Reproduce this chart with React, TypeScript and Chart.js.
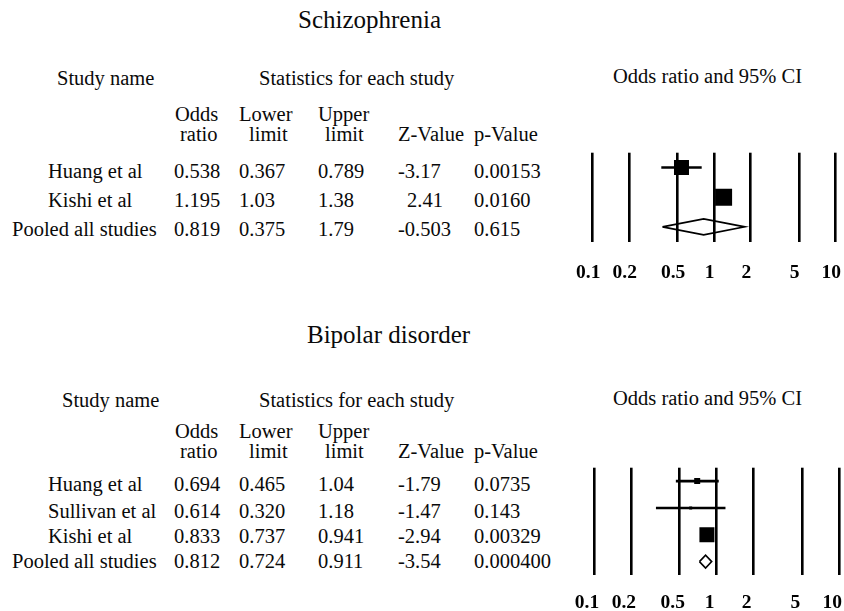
import React, { useEffect, useRef } from "react";
import { Chart, registerables } from "chart.js";

Chart.register(...registerables);

// ---------- data ----------
const oddsTicks = [0.1, 0.2, 0.5, 1, 2, 5, 10];

const schizStudies = ["Huang et al", "Kishi et al", "Pooled all studies"];
const schizOdds = ["0.538", "1.195", "0.819"];
const schizLower = ["0.367", "1.03", "0.375"];
const schizUpper = ["0.789", "1.38", "1.79"];
const schizZ = ["-3.17", "2.41", "-0.503"];
const schizP = ["0.00153", "0.0160", "0.615"];

const bipStudies = ["Huang et al", "Sullivan et al", "Kishi et al", "Pooled all studies"];
const bipOdds = ["0.694", "0.614", "0.833", "0.812"];
const bipLower = ["0.465", "0.320", "0.737", "0.724"];
const bipUpper = ["1.04", "1.18", "0.941", "0.911"];
const bipZ = ["-1.79", "-1.47", "-2.94", "-3.54"];
const bipP = ["0.0735", "0.143", "0.00329", "0.000400"];

// ---------- styles ----------
const FONT = '"Liberation Serif", "Times New Roman", Times, serif';
const schizBoxSide = [15, 17];
const bipBoxSide = [6, 3, 15];

type TProps = { x: number; b: number; s?: number; children: React.ReactNode };
function T({ x, b, s = 20.5, children }: TProps) {
  const style: React.CSSProperties = {
    position: "absolute",
    top: b - 0.8375 * s,
    left: x,
    fontSize: s,
    lineHeight: `${s}px`,
    fontFamily: FONT,
    whiteSpace: "nowrap",
    color: "#0a0a0a",
  };
  return <span style={style}>{children}</span>;
}

type ForestProps = {
  odds: string[];
  lower: string[];
  upper: string[];
  boxSide: number[];
  diamondHalf: number;
  left: number;
  top: number;
  width: number;
  height: number;
  padding: { left: number; right: number; top: number; bottom: number };
  labelOffset: number;
  lineHeight: number;
};

function Forest(p: ForestProps) {
  const ref = useRef<HTMLCanvasElement | null>(null);
  useEffect(() => {
    if (!ref.current) return;
    const o = p.odds.map(Number);
    const lo = p.lower.map(Number);
    const up = p.upper.map(Number);
    const n = o.length;
    const pi = n - 1;
    const h = p.diamondHalf;
    const datasets: any[] = [];
    for (let i = 0; i < pi; i++) {
      datasets.push({
        type: "line",
        showLine: true,
        data: [
          { x: lo[i], y: i },
          { x: up[i], y: i },
        ],
        borderColor: "#000",
        borderWidth: 2.6,
        pointRadius: 0,
        fill: false,
        order: 2,
      });
    }
    datasets.push({
      type: "scatter",
      data: o.slice(0, pi).map((x, i) => ({ x, y: i })),
      pointStyle: "rect",
      pointRadius: p.boxSide.map((s) => s / Math.SQRT2),
      backgroundColor: "#000",
      borderColor: "#000",
      borderWidth: 0,
      order: 1,
    });
    datasets.push({
      type: "line",
      showLine: true,
      data: [
        { x: lo[pi], y: pi },
        { x: o[pi], y: pi - h },
        { x: up[pi], y: pi },
        { x: o[pi], y: pi + h },
        { x: lo[pi], y: pi },
      ],
      borderColor: "#000",
      borderWidth: 1.6,
      pointRadius: 0,
      fill: false,
      tension: 0,
      order: 0,
    });
    const chart = new Chart(ref.current, {
      type: "scatter",
      data: { datasets },
      options: {
        responsive: false,
        animation: false,
        events: [],
        layout: { padding: p.padding },
        plugins: { legend: { display: false }, tooltip: { enabled: false }, title: { display: false } },
        scales: {
          x: {
            type: "logarithmic",
            min: 0.1,
            max: 10,
            afterBuildTicks: (ax: any) => {
              ax.ticks = oddsTicks.map((v) => ({ value: v }));
            },
            grid: { color: "#000", lineWidth: 2.6, drawTicks: false },
            border: { display: false },
            ticks: {
              callback: (v: any) => String(v),
              autoSkip: false,
              maxRotation: 0,
              minRotation: 0,
              padding: 0,
              labelOffset: p.labelOffset,
              color: "#000",
              font: { family: FONT, size: 19.5, weight: "bold", lineHeight: p.lineHeight },
            },
          },
          y: { type: "linear", display: false, min: -0.5, max: n - 0.5, reverse: true },
        },
      } as any,
    });
    return () => chart.destroy();
  }, []);
  return (
    <canvas
      ref={ref}
      width={p.width}
      height={p.height}
      style={{ position: "absolute", left: p.left, top: p.top, width: p.width, height: p.height }}
    />
  );
}

type TableProps = {
  title: string;
  titleX: number;
  titleB: number;
  studyX: number;
  headB: number;
  h1B: number;
  h2B: number;
  rowB: number[];
  studies: string[];
  odds: string[];
  lower: string[];
  upper: string[];
  z: string[];
  pv: string[];
};

const COL = { odds: 174, lower: 239, upper: 318, z: 398, p: 474 };

function Table(t: TableProps) {
  const last = t.studies.length - 1;
  return (
    <>
      <T x={t.titleX} b={t.titleB} s={25}>
        {t.title}
      </T>
      <T x={t.studyX} b={t.headB}>Study name</T>
      <T x={259} b={t.headB}>Statistics for each study</T>
      <T x={613} b={t.headB - 2}>Odds ratio and 95% CI</T>
      <T x={175} b={t.h1B}>Odds</T>
      <T x={180} b={t.h2B}>ratio</T>
      <T x={239} b={t.h1B}>Lower</T>
      <T x={249} b={t.h2B}>limit</T>
      <T x={318} b={t.h1B}>Upper</T>
      <T x={325} b={t.h2B}>limit</T>
      <T x={398} b={t.h2B}>Z-Value</T>
      <T x={474} b={t.h2B}>p-Value</T>
      {t.studies.map((s, i) => (
        <React.Fragment key={s + i}>
          <T x={i === last ? 12 : 48} b={t.rowB[i]}>
            {s}
          </T>
          <T x={COL.odds} b={t.rowB[i]}>{t.odds[i]}</T>
          <T x={COL.lower} b={t.rowB[i]}>{t.lower[i]}</T>
          <T x={COL.upper} b={t.rowB[i]}>{t.upper[i]}</T>
          <T x={COL.z + (t.z[i].startsWith("-") ? 0 : 9)} b={t.rowB[i]}>
            {t.z[i]}
          </T>
          <T x={COL.p} b={t.rowB[i]}>{t.pv[i]}</T>
        </React.Fragment>
      ))}
    </>
  );
}

export default function App() {
  return (
    <div
      style={{
        position: "absolute",
        left: 0,
        top: 0,
        width: 844,
        height: 611,
        overflow: "hidden",
        background: "#fff",
      }}
    >
      <Table
        title="Schizophrenia"
        titleX={298}
        titleB={28}
        studyX={57}
        headB={85}
        h1B={121}
        h2B={141}
        rowB={[178, 207, 236]}
        studies={schizStudies}
        odds={schizOdds}
        lower={schizLower}
        upper={schizUpper}
        z={schizZ}
        pv={schizP}
      />
      <Forest
        odds={schizOdds}
        lower={schizLower}
        upper={schizUpper}
        boxSide={schizBoxSide}
        diamondHalf={0.27}
        left={560}
        top={130}
        width={300}
        height={180}
        padding={{ left: 32.7, right: 24.3, top: 22.7, bottom: 5.9 }}
        labelOffset={-4.5}
        lineHeight={3.2}
      />
      <Table
        title="Bipolar disorder"
        titleX={307}
        titleB={343}
        studyX={62}
        headB={407}
        h1B={438}
        h2B={458}
        rowB={[491, 518, 543, 568]}
        studies={bipStudies}
        odds={bipOdds}
        lower={bipLower}
        upper={bipUpper}
        z={bipZ}
        pv={bipP}
      />
      <Forest
        odds={bipOdds}
        lower={bipLower}
        upper={bipUpper}
        boxSide={bipBoxSide}
        diamondHalf={0.24}
        left={560}
        top={440}
        width={300}
        height={200}
        padding={{ left: 34, right: 20.7, top: 27.7, bottom: 9 }}
        labelOffset={-7}
        lineHeight={2.87}
      />
    </div>
  );
}
